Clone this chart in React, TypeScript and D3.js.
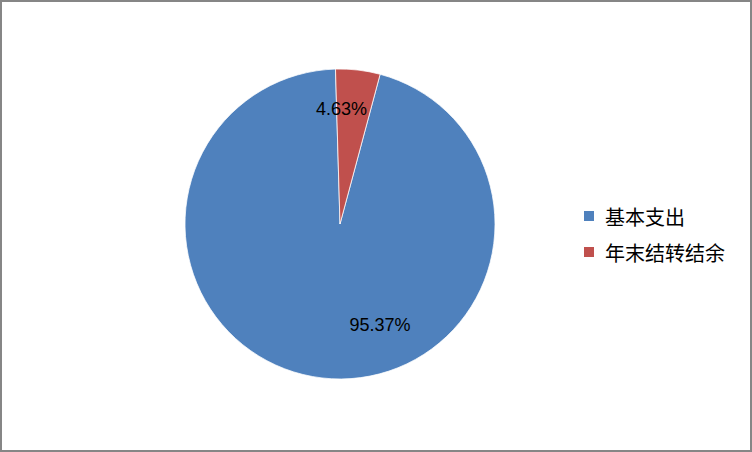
import React from "react";
import * as d3 from "d3";

const categories = ["基本支出", "年末结转结余"];
const values = [95.37, 4.63];
const labels = ["95.37%", "4.63%"];
const colors = ["#4F81BD", "#C0504D"];

export default function App() {
  const W = 752, H = 452;
  const cx = 340, cy = 224, r = 155;
  const pie = d3.pie<number>().sort(null).startAngle((15 * Math.PI) / 180).endAngle((15 * Math.PI) / 180 + 2 * Math.PI);
  const arcs = pie(values);
  const arc = d3.arc<d3.PieArcDatum<number>>().innerRadius(0).outerRadius(r);
  // label positions (Excel best-fit approximations): angle (deg from top, clockwise), radius factor
  const labelPlace = [
    [158.4, 0.7],
    [0.75, 0.742],
  ];
  const labelPos = (i: number) => {
    const ang = (labelPlace[i][0] * Math.PI) / 180;
    const rr = r * labelPlace[i][1];
    return [Math.sin(ang) * rr, -Math.cos(ang) * rr];
  };
  const legendY = d3.scalePoint<string>().domain(categories).range([216, 252]);
  return (
    <svg width={W} height={H} style={{ position: "fixed", left: 0, top: 0, background: "#fff" }}>
      <rect x={1} y={1} width={W - 2} height={H - 2} fill="#fff" stroke="#868686" strokeWidth={2} />
      <g transform={`translate(${cx},${cy})`}>
        {arcs.map((a, i) => (
          <path key={i} d={arc(a) || ""} fill={colors[i]} stroke="#fff" strokeWidth={0.75} />
        ))}
        {arcs.map((a, i) => {
          const [x, y] = labelPos(i);
          return (
            <text key={"l" + i} x={x} y={y} textAnchor="middle" dominantBaseline="central"
              fontFamily="'Liberation Sans', Arial, sans-serif" fontSize={18} fill="#000">
              {labels[i]}
            </text>
          );
        })}
      </g>
      {categories.map((c, i) => (
        <g key={c} transform={`translate(584,${legendY(c)})`}>
          <rect x={0} y={-5} width={10} height={10} fill={colors[i]} />
          <text x={21} y={0} dominantBaseline="central" fontFamily="'Noto Sans CJK SC', sans-serif" fontSize={20} fill="#000">
            {c}
          </text>
        </g>
      ))}
    </svg>
  );
}
